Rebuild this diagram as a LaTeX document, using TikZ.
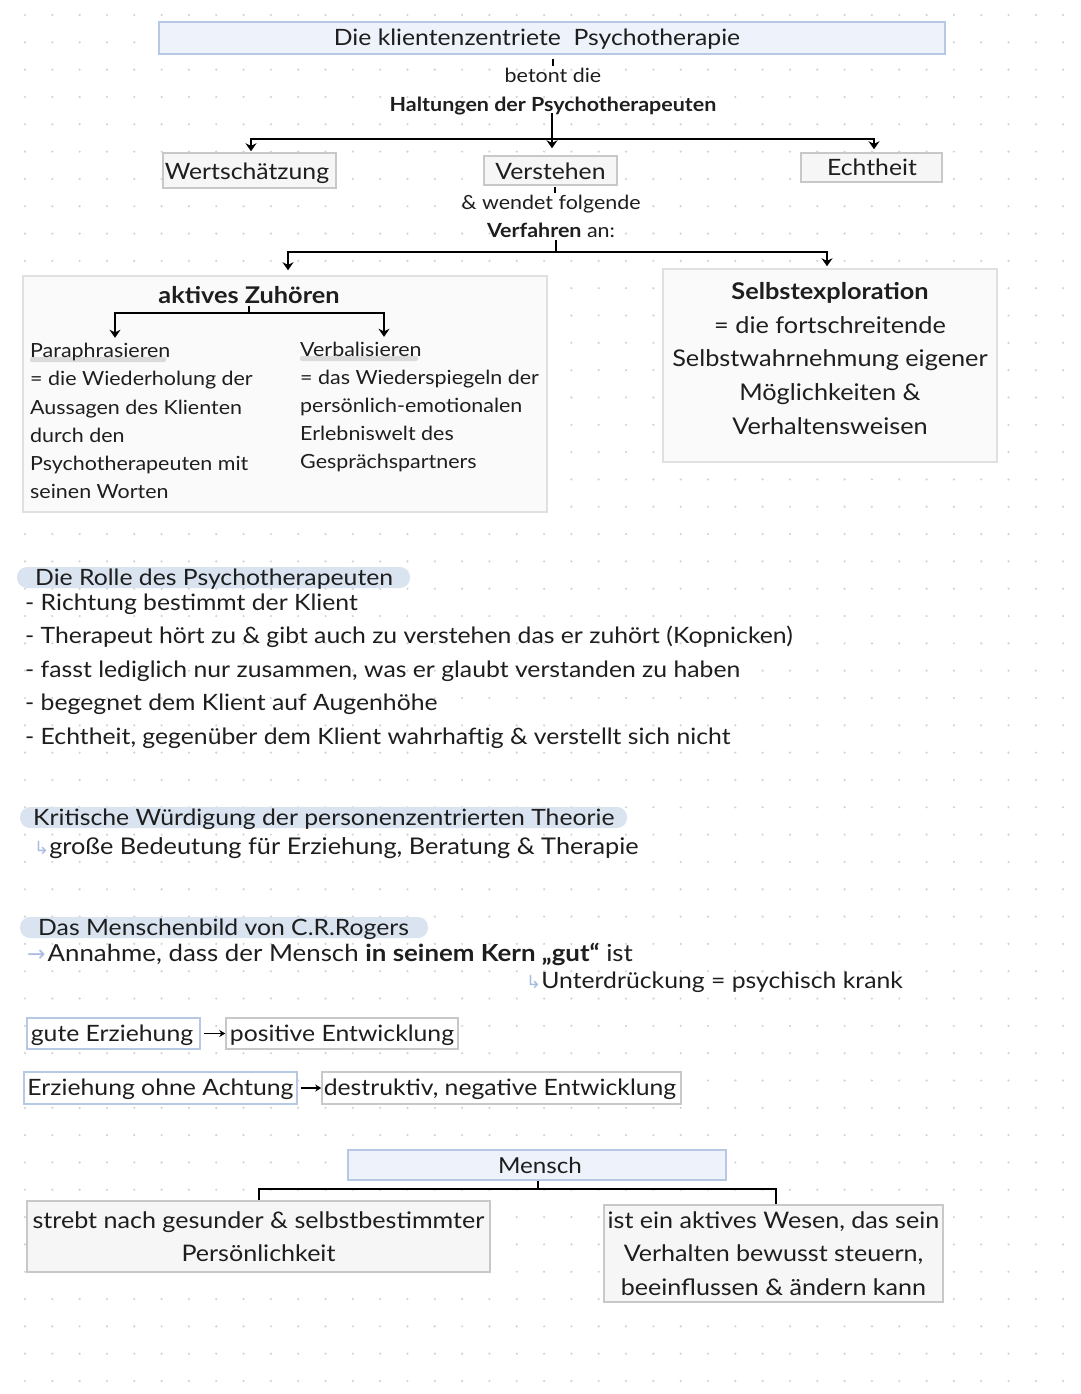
\documentclass[tikz,border=0pt]{standalone}
\usepackage{fontspec}
\setmainfont{Lato}[FakeStretch=1.1]
\newfontfamily\symf{DejaVu Sans}
\usetikzlibrary{arrows.meta}
\definecolor{dotc}{HTML}{D2D2D2}
\definecolor{txtc}{HTML}{1E1E1E}
\definecolor{bboxd}{HTML}{B7C8E4}
\definecolor{bboxf}{HTML}{EEF3FB}
\definecolor{gboxd}{HTML}{C8C8C8}
\definecolor{gboxf}{HTML}{F6F6F6}
\definecolor{lboxd}{HTML}{E0E0E0}
\definecolor{lboxf}{HTML}{FAFAFA}
\definecolor{hlc}{HTML}{DAE3F0}
\definecolor{ulc}{HTML}{DADADA}
\definecolor{symc}{HTML}{A8BCE0}
\newcommand\myfs[2]{\fontsize{#1}{#2}\selectfont}
\newcommand\bla{{\symf\color{symc}\myfs{18}{20}↳}}
\newcommand\ra{{\symf\color{symc}\myfs{22}{24}→}}
\begin{document}
\begin{tikzpicture}[x=1pt,y=-1pt,
  s19/.style={font=\myfs{19.5}{28}, inner sep=0pt, text height=15pt, text depth=1pt, text=txtc},
  s22/.style={font=\myfs{22.5}{33}, inner sep=0pt, text height=17.5pt, text depth=1.5pt, text=txtc},
  s23/.style={font=\myfs{22.5}{33.5}, inner sep=0pt, text height=17.5pt, text depth=1.5pt, text=txtc},
  m23/.style={font=\myfs{22.8}{33.5}, inner sep=0pt, text=txtc, align=center},
  gbox/.style={draw=gboxd, fill=gboxf, line width=1.5pt, inner sep=0pt},
  bbox/.style={draw=bboxd, fill=bboxf, line width=1.5pt, inner sep=0pt},
  lbox/.style={draw=lboxd, fill=lboxf, line width=1.5pt, inner sep=0pt},
  ln/.style={draw=black, line width=2pt},
  arr/.style={ln, -{Stealth[length=8pt,width=11pt]}},
  sarr/.style={draw=black, line width=1.6pt, -{Stealth[length=6pt,width=7pt]}},
  hl/.style={fill=hlc, rounded corners=10pt},
  ul/.style={fill=ulc, rounded corners=2pt}
]
\useasboundingbox (0,0) rectangle (1080,1394);
\fill[white] (0,0) rectangle (1080,1394);
\foreach \i in {0,...,38}{\foreach \j in {0,...,50}{\fill[dotc] (25+27.32*\i,15+27.32*\j) circle (1.2pt);}}

% ---------- top ----------
\node[bbox, minimum width=786, minimum height=32] (title) at (552,38) {};
\node[s22] (titletxt) at (537,38) {Die klientenzentriete\ \ Psychotherapie};
\node[s19] (betont) at (553,76) {betont die};
\node[s19, font=\myfs{19.5}{28}\bfseries] (halt) at (553,105) {Haltungen der Psychotherapeuten};
\draw[ln] ([yshift=-4pt]title.south -| betont.north) -- ([yshift=2pt]betont.north);

\node[gbox, minimum width=173, minimum height=35] (wert) at (249.5,170.5) {};
\node[s23] (werttxt) at (247,171) {Wertschätzung};
\node[gbox, minimum width=133, minimum height=29] (verst) at (550.5,170.5) {};
\node[s23] (versttxt) at (550.5,171) {Verstehen};
\node[gbox, minimum width=141, minimum height=29] (echt) at (871.5,167.5) {};
\node[s23] (echttxt) at (872,167) {Echtheit};

\coordinate (j1) at (552,139);
\draw[arr] (halt.south -| j1) -- ([yshift=7pt]verst.north -| j1);
\draw[arr] (j1) -| ([xshift=1.5pt,yshift=1pt]wert.north);
\draw[arr] (j1) -| ([xshift=2.5pt,yshift=3pt]echt.north);

\node[s19] (wend) at (551,202) {\& wendet folgende};
\node[s19] (verf) at (551,230) {\textbf{Verfahren} an:};
\draw[ln] ([yshift=-1pt]verst.south -| 555,0) -- ([yshift=1pt]wend.north -| 555,0);

\coordinate (j2) at (556,252);
\draw[ln] ([yshift=-2pt]verf.south -| j2) -- (j2);

% ---------- aktives Zuhoeren ----------
\node[lbox, minimum width=524, minimum height=236] (akt) at (285,394) {};
\node[lbox, minimum width=334, minimum height=193] (sel) at (830,365.5) {};
\draw[arr] (j2) -| ([xshift=3pt,yshift=5pt]akt.north);
\draw[arr] (j2) -| ([xshift=-3pt,yshift=2pt]sel.north);

\node[s23, font=\myfs{23}{33.5}\bfseries] (azh) at (249,295) {aktives Zuhören};
\coordinate (j3) at (249,313);
\draw[ln] ([yshift=-1pt]azh.south) -- (j3);

\fill[ul] (30,357) rectangle (166,362);
\fill[ul] (300,356) rectangle (418,361);
\node[s19, anchor=west] (p1) at (30,350) {Paraphrasieren};
\node[s19, anchor=west] (p2) at (30,378) {= die Wiederholung der};
\node[s19, anchor=west] (p3) at (30,407) {Aussagen des Klienten};
\node[s19, anchor=west] (p4) at (30,435) {durch den};
\node[s19, anchor=west] (p5) at (30,463) {Psychotherapeuten mit};
\node[s19, anchor=west] (p6) at (30,491) {seinen Worten};
\node[s19, anchor=west] (v1) at (300,349) {Verbalisieren};
\node[s19, anchor=west] (v2) at (300,377) {= das Wiederspiegeln der};
\node[s19, anchor=west] (v3) at (300,405) {persönlich-emotionalen};
\node[s19, anchor=west] (v4) at (300,433) {Erlebniswelt des};
\node[s19, anchor=west] (v5) at (300,461) {Gesprächspartners};
\draw[arr] (j3) -| ([yshift=4pt]p1.north -| 115,0);
\draw[arr] (j3) -| ([yshift=4pt]v1.north -| 384,0);

\node[s23, font=\myfs{23}{33.5}\bfseries] (se1) at (830,291) {Selbstexploration};
\node[s23, font=\myfs{23}{33.5}] (se2) at (830,325) {= die fortschreitende};
\node[s23, font=\myfs{23}{33.5}] (se3) at (830,358) {Selbstwahrnehmung eigener};
\node[s23, font=\myfs{23}{33.5}] (se4) at (830,392) {Möglichkeiten \&};
\node[s23, font=\myfs{23}{33.5}] (se5) at (830,426) {Verhaltensweisen};

% ---------- Rolle ----------
\fill[hl] (17,567) rectangle (410,588);
\node[s22, anchor=west] (r0) at (35,577) {Die Rolle des Psychotherapeuten};
\node[s22, anchor=west] (r1) at (25,602) {- Richtung bestimmt der Klient};
\node[s22, anchor=west] (r2) at (25,635) {- Therapeut hört zu \& gibt auch zu verstehen das er zuhört (Kopnicken)};
\node[s22, anchor=west] (r3) at (25,669) {- fasst lediglich nur zusammen, was er glaubt verstanden zu haben};
\node[s22, anchor=west] (r4) at (25,702) {- begegnet dem Klient auf Augenhöhe};
\node[s22, anchor=west] (r5) at (25,736) {- Echtheit, gegenüber dem Klient wahrhaftig \& verstellt sich nicht};

% ---------- Kritische Wuerdigung ----------
\fill[hl] (20,807) rectangle (627,828);
\node[s22, anchor=west] (k0) at (33,817) {Kritische Würdigung der personenzentrierten Theorie};
\node[s22, font=\myfs{23}{33}, anchor=west] (k1) at (34,846) {\bla große Bedeutung für Erziehung, Beratung \& Therapie};

% ---------- Menschenbild ----------
\fill[hl] (20,917) rectangle (428,938);
\node[s22, anchor=west] (m0) at (38,927) {Das Menschenbild von C.R.Rogers};
\node[s22, font=\myfs{23.5}{33}, anchor=west] (m1) at (27,953) {\ra\hspace{2pt}Annahme, dass der Mensch \textbf{in seinem Kern „gut“} ist};
\node[s22, anchor=west] (m2) at (526,980) {\bla Unterdrückung = psychisch krank};

% ---------- Erziehung ----------
\node[bbox, fill=white, minimum width=173, minimum height=31] (gute) at (113.5,1033.5) {};
\node[s23] (gutetxt) at (112,1033) {gute Erziehung};
\node[gbox, fill=white, minimum width=232, minimum height=31] (pos) at (342,1033.5) {};
\node[s23] (postxt) at (342,1033) {positive Entwicklung};
\draw[sarr] ([xshift=3pt]gute.east) -- (pos.west);

\node[bbox, fill=white, minimum width=273, minimum height=32] (erz) at (160.5,1088) {};
\node[s23] (erztxt) at (160.5,1087) {Erziehung ohne Achtung};
\node[gbox, fill=white, minimum width=359, minimum height=32] (des) at (501.5,1088) {};
\node[s23] (destxt) at (500,1087) {destruktiv, negative Entwicklung};
\draw[sarr] ([xshift=3pt]erz.east) -- (des.west);

% ---------- Mensch ----------
\node[bbox, minimum width=378, minimum height=30, font=\myfs{22}{33}, text=txtc] (mensch) at (537,1165) {\hspace*{6pt}Mensch};
\node[gbox, minimum width=463, minimum height=71, m23] (left) at (258.5,1236.5) {strebt nach gesunder \& selbstbestimmter\\Persönlichkeit};
\node[gbox, minimum width=339, minimum height=97, m23] (right) at (773.5,1253.5) {ist ein aktives Wesen, das sein\\Verhalten bewusst steuern,\\beeinflussen \& ändern kann};
\coordinate (j4) at (538,1189);
\draw[ln] (mensch.south -| j4) -- (j4);
\draw[ln] (j4) -| (left.north);
\draw[ln] (j4) -| ([xshift=2pt]right.north);
\end{tikzpicture}
\end{document}
